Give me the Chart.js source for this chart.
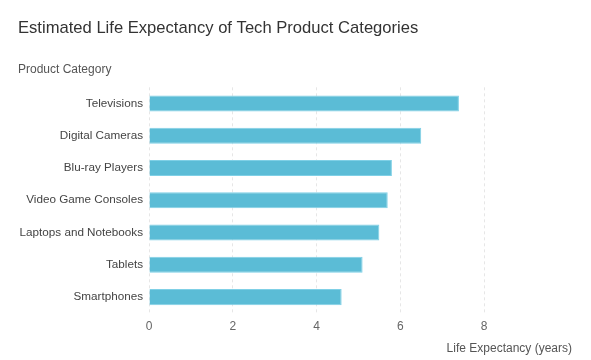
<!DOCTYPE html>
<html><head><meta charset="utf-8">
<script src="https://cdn.jsdelivr.net/npm/chart.js@4"></script>
<style>html,body{margin:0;padding:0;background:#fff}#wrap{width:591px;height:360px}</style>
</head><body><div id="wrap"><canvas id="c"></canvas></div>
<script>
const categories = ["Televisions","Digital Cameras","Blu-ray Players","Video Game Consoles","Laptops and Notebooks","Tablets","Smartphones"];
const lifeExpectancy = [7.4, 6.5, 5.8, 5.7, 5.5, 5.1, 4.6];
const xTicks = [0, 2, 4, 6, 8];

Chart.defaults.font.family = '"Liberation Sans", Arial, sans-serif';
new Chart(document.getElementById('c'), {
  type: 'bar',
  data: { labels: categories, datasets: [{ data: lifeExpectancy, backgroundColor: '#5bbcd6', borderColor: '#7fd0e6', borderWidth: 1, categoryPercentage: 1, barPercentage: 0.5 }] },
  options: {
    indexAxis: 'y', responsive: true, maintainAspectRatio: false, animation: false,
    layout: { padding: { left: 18, right: 19, top: 6, bottom: 0 } },
    plugins: {
      legend: { display: false }, tooltip: { enabled: false },
      title: { display: true, text: 'Estimated Life Expectancy of Tech Product Categories', align: 'start', color: '#333', font: { size: 16.6, weight: 'normal' }, padding: { top: 12, bottom: 25 } },
      subtitle: { display: true, text: 'Product Category', align: 'start', color: '#555', font: { size: 12 }, padding: { bottom: 10 } }
    },
    scales: {
      x: { min: 0, max: 10.1,
        afterBuildTicks: (s) => { s.ticks = xTicks.map(v => ({ value: v })); },
        ticks: { color: '#666', font: { size: 12 }, padding: 6 },
        grid: { color: '#e6e6e6', drawTicks: false }, border: { display: false, dash: [3, 3] },
        title: { display: true, text: 'Life Expectancy (years)', align: 'end', color: '#555', font: { size: 12 }, padding: { top: 2 } } },
      y: { afterFit: (s) => { s.width = 131; }, grid: { display: false, drawTicks: false }, border: { display: false }, ticks: { color: '#444', font: { size: 11.7 }, padding: 6 } }
    }
  }
});
</script></body></html>
